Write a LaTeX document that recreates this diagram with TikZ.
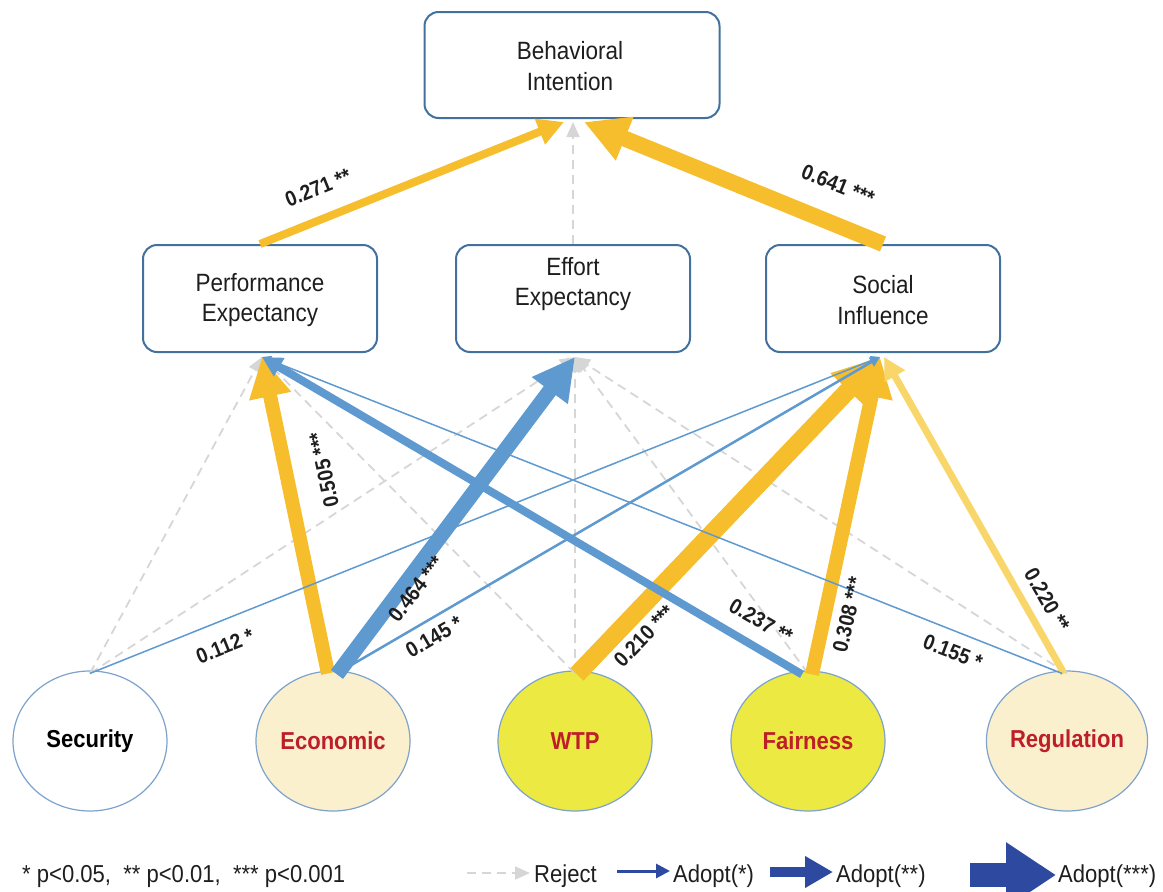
\documentclass[tikz,border=0pt]{standalone}
\usepackage{fontspec}
\setmainfont{Liberation Sans}[FakeStretch=0.9]
\usetikzlibrary{arrows.meta,shapes.geometric}

\definecolor{boxline}{RGB}{65,113,156}
\definecolor{ovalline}{RGB}{125,163,205}
\definecolor{arrowyellow}{RGB}{246,190,44}
\definecolor{paleyellow}{RGB}{249,214,105}
\definecolor{arrowblue}{RGB}{94,153,208}
\definecolor{rejectgray}{RGB}{214,214,214}
\definecolor{cream}{RGB}{251,240,206}
\definecolor{lemon}{RGB}{236,233,66}
\definecolor{labelred}{RGB}{190,30,40}
\definecolor{legendblue}{RGB}{46,74,160}
\definecolor{inkgray}{RGB}{30,30,30}

\newcommand{\boxfont}{\fontsize{25}{30.5}\selectfont}
\newcommand{\coeffont}{\bfseries\fontsize{21.5}{24}\selectfont}
\newcommand{\legfont}{\fontsize{24.5}{28}\selectfont}

\tikzset{
  construct/.style={draw=boxline, line width=2pt, rounded corners=14pt, fill=white,
    minimum width=234pt, minimum height=107pt, align=center, font=\boxfont, text=inkgray},
  boxtext/.style={align=center, font=\boxfont, text=inkgray, inner sep=0pt},
  factor/.style={ellipse, draw=ovalline, line width=1.2pt, minimum width=154pt,
    minimum height=140pt, inner sep=0pt, font=\bfseries\fontsize{24.5}{28}\selectfont},
  coef/.style={font=\coeffont, text=inkgray, inner sep=0pt},
  legtext/.style={font=\legfont, text=inkgray, inner sep=0pt, anchor=west},
  reject/.style={draw=rejectgray, line width=1.8pt, dash pattern=on 9pt off 6pt,
    -{Triangle[length=15pt,width=13pt]}},
  pathy/.style 2 args={draw=arrowyellow, line width=#1, -{Triangle[length=#2,width=#2]}},
  pathb/.style 2 args={draw=arrowblue, line width=#1, -{Triangle[length=#2,width=#2]}},
}

\begin{document}
\begin{tikzpicture}[x=1pt,y=-1pt]
\useasboundingbox (0,0) rectangle (1163,892);
\clip (0,0) rectangle (1163,892);

% constructs
\node[construct, minimum width=295pt, minimum height=106pt] (bi) at (572,65) {};
\node[boxtext] (bitxt) at (570,66) {Behavioral\\Intention};
\node[construct] (pe) at (260,298.5) {};
\node[boxtext] (petxt) at (260,300) {Performance\\Expectancy};
\node[construct] (ee) at (573,298.5) {};
\node[boxtext] (eetxt) at (573,284) {Effort\\Expectancy};
\node[construct] (si) at (883,298.5) {};
\node[boxtext] (sitxt) at (883,300) {Social\\Influence};

% factors
\node[factor, fill=white] (sec) at (90,741) {Security};
\node[factor, fill=cream, text=labelred] (eco) at (333,741) {Economic};
\node[factor, fill=lemon, text=labelred] (wtp) at (575,741) {WTP};
\node[factor, fill=lemon, text=labelred] (fai) at (808,741) {Fairness};
\node[factor, fill=cream, text=labelred] (reg) at (1067,741) {Regulation};

% arrow ends on the constructs
\coordinate (biA) at ([xshift=-8pt,yshift=-3pt]bi.south);
\coordinate (biB) at ([xshift=1pt,yshift=-3pt]bi.south);
\coordinate (biC) at ([xshift=12pt,yshift=-3pt]bi.south);
\coordinate (peIn) at ([xshift=2pt,yshift=-4pt]pe.south);
\coordinate (eeIn) at ([xshift=2pt,yshift=-4pt]ee.south);
\coordinate (siIn) at ([xshift=-3pt,yshift=-4pt]si.south);

% rejected paths
\draw[reject] (ee.north) -- (biB);
\draw[reject] ([yshift=-3pt]sec.north) -- (peIn);
\draw[reject] ([yshift=-3pt]sec.north) -- (eeIn);
\draw[reject] ([yshift=-3pt]wtp.north) -- (peIn);
\draw[reject] ([yshift=-3pt]wtp.north) -- (eeIn);
\draw[reject] ([yshift=-3pt]fai.north) -- (eeIn);
\draw[reject] ([yshift=-3pt]reg.north) -- (eeIn);

% adopted paths, yellow
\draw[pathy={8pt}{26pt}] (pe.north) -- (biA);
\draw[pathy={16pt}{44pt}] (si.north) -- (biC);
\draw[pathy={14pt}{40pt}] ([xshift=-5pt,yshift=-3pt]eco.north) -- (peIn);
\draw[pathy={18pt}{46pt}] ([xshift=2pt,yshift=-4pt]wtp.north) -- (siIn);
\draw[pathy={14pt}{40pt}] ([xshift=4pt,yshift=-4pt]fai.north) -- (siIn);
\draw[draw=paleyellow, line width=7pt, -{Triangle[length=22pt,width=22pt]}]
  ([xshift=-3pt,yshift=-3pt]reg.north) -- ([xshift=4pt]siIn);

% adopted paths, blue
\draw[pathb={1.5pt}{9pt}] ([yshift=-3pt]sec.north) -- (siIn);
\draw[pathb={2.5pt}{10pt}] ([xshift=4pt,yshift=-3pt]eco.north) -- (siIn);
\draw[pathb={1.5pt}{9pt}] ([xshift=-5pt,yshift=-3pt]reg.north) -- (peIn);
\draw[pathb={8pt}{20pt}] ([xshift=-6pt,yshift=-4pt]fai.north) -- (peIn);
\draw[pathb={15pt}{42pt}] ([xshift=4pt,yshift=-4pt]eco.north) -- (eeIn);

% coefficients
\node[coef, rotate=22] (c1) at (318,188) {0.271 **};
\node[coef, rotate=-22] (c2) at (838,185) {0.641 ***};
\node[coef, rotate=102] (c3) at (324,470) {0.505 ***};
\node[coef, rotate=52] (c4) at (416,589) {0.464 ***};
\node[coef, rotate=22] (c5) at (225,646) {0.112 *};
\node[coef, rotate=30] (c6) at (434,637) {0.145 *};
\node[coef, rotate=46] (c7) at (644,636) {0.210 ***};
\node[coef, rotate=-30] (c8) at (761,621) {0.237 **};
\node[coef, rotate=77] (c9) at (848,615) {0.308 ***};
\node[coef, rotate=-60] (c10) at (1047,600) {0.220 **};
\node[coef, rotate=-21] (c11) at (953,652) {0.155 *};

% legend
\node[legtext] (sig) at (22,876) {* p<0.05,\ \ ** p<0.01,\ \ *** p<0.001};
\node[legtext] (lrej) at (534,876) {Reject};
\node[legtext] (lone) at (673,876) {Adopt(*)};
\node[legtext] (ltwo) at (836,876) {Adopt(**)};
\node[legtext] (lthree) at (1058,876) {Adopt(***)};
\draw[reject] ([xshift=-67pt,yshift=3pt]lrej.west) -- ([xshift=-4pt,yshift=3pt]lrej.west);
\draw[draw=legendblue, line width=3pt, -{Triangle[length=14pt,width=14pt]}]
  ([xshift=-56pt,yshift=5pt]lone.west) -- ([xshift=-3pt,yshift=5pt]lone.west);
\draw[draw=legendblue, line width=10pt, -{Triangle[length=28pt,width=30pt]}]
  ([xshift=-66pt,yshift=4pt]ltwo.west) -- ([xshift=-3pt,yshift=4pt]ltwo.west);
\draw[draw=legendblue, line width=24pt, -{Triangle[length=50pt,width=62pt]}]
  ([xshift=-88pt,yshift=1pt]lthree.west) -- ([xshift=-2pt,yshift=1pt]lthree.west);
\end{tikzpicture}
\end{document}
